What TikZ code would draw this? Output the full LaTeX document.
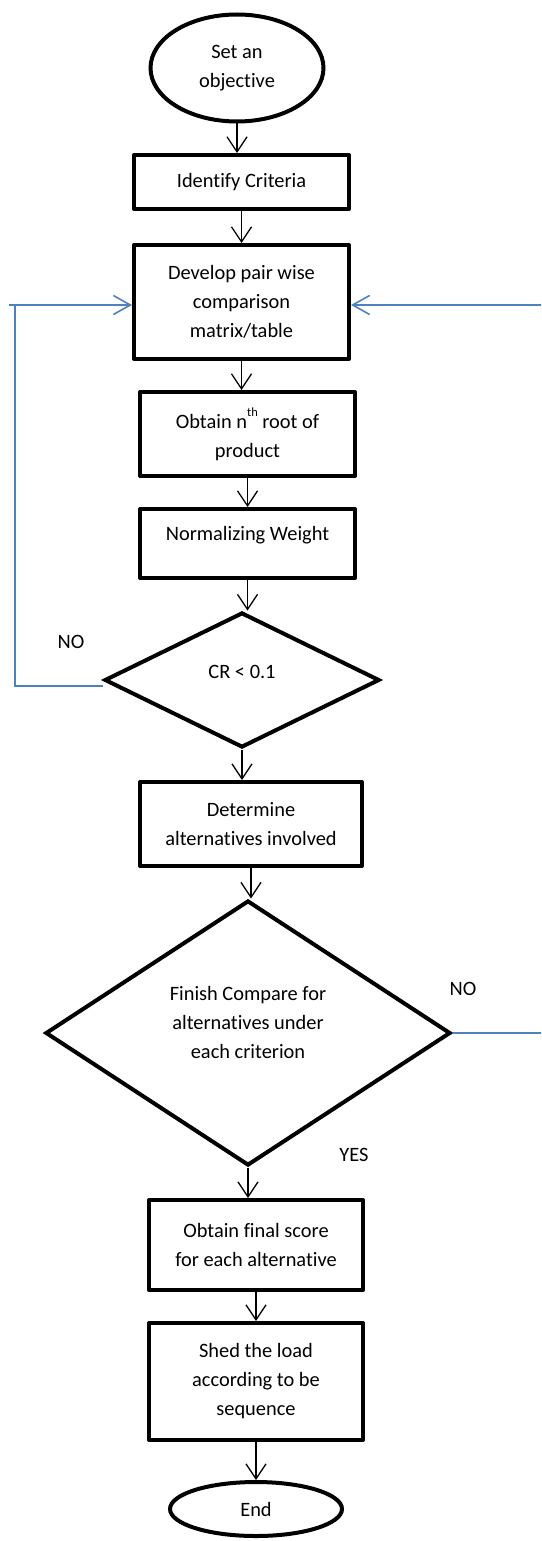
\documentclass[tikz,border=0pt]{standalone}
\usepackage{fontspec}
\setmainfont{Carlito}[Ligatures=CommonOff]
\usetikzlibrary{shapes.geometric,arrows.meta}
\definecolor{loopblue}{RGB}{79,129,189}

\begin{document}
\begin{tikzpicture}[x=1pt, y=-1pt,
    every node/.style={font=\fontsize{20.4}{29}\selectfont, align=center},
    proc/.style={draw, line width=4pt, line join=round, minimum width=215pt},
    term/.style={draw, ellipse, line width=4pt, inner sep=0pt},
    test/.style={draw, diamond, line width=4pt, inner sep=2pt},
    flow/.style={-{Straight Barb[length=15pt, width=20pt]}, line width=1.3pt},
    back/.style={draw=loopblue, line width=1.6pt},
    backtip/.style={-{Straight Barb[length=17pt, width=19pt]}}]

\useasboundingbox (0,0) rectangle (541,1541);
\fill[white] (0,0) rectangle (541,1541);
\clip (0,0) rectangle (541,1541);

\node [term, minimum width=173pt, minimum height=107pt] (start) at (237,68)    {Set an\\objective};
\node [proc, minimum height=54pt]                       (ident) at (241.5,182) {Identify Criteria};
\node [proc, minimum height=114pt]                      (dev)   at (241.5,302) {Develop pair wise\\comparison\\matrix/table};
\node [proc, minimum height=84pt]                       (root)  at (247.5,434) {Obtain n\raisebox{0.6em}{\fontsize{12.5}{12.5}\selectfont th} root of\\product};
\node [proc, minimum height=69pt, text depth=21pt]      (norm)  at (247.5,543.5) {Normalizing Weight};
\node [test, minimum width=275pt, minimum height=135pt, aspect=2, text depth=16pt] (cr) at (242,680) {CR < 0.1};
\node [proc, minimum width=222pt, minimum height=84pt]  (alt)   at (251,824)   {Determine\\alternatives involved};
\node [test, minimum width=405pt, minimum height=265pt, aspect=1.5, text depth=21pt] (fin) at (248,1033) {Finish Compare for\\alternatives under\\each criterion};
\node [proc, minimum width=214pt, minimum height=90pt]  (score) at (256,1245)  {Obtain final score\\for each alternative};
\node [proc, minimum width=214pt, minimum height=117pt] (shed)  at (256,1381.5) {Shed the load\\according to be\\sequence};
\node [term, minimum width=172pt, minimum height=54pt]  (stop)  at (256,1509)  {End};

\node (noleft)  at (71,642)   {NO};
\node (noright) at (463,989)  {NO};
\node (yes)     at (354,1155) {YES};

\foreach \a/\b in {start/ident, ident/dev, dev/root, root/norm, norm/cr,
                   cr/alt, alt/fin, fin/score, score/shed, shed/stop}
    \draw [flow] (\a.south) -- (\a.south |- \b.north);

% loops back to the comparison matrix
\coordinate (noL) at (15,305);
\coordinate (noR) at (560,305);
\draw [back, backtip] ([yshift=-6pt]cr.west) -| (noL) -- (noL -| dev.west);
\draw [back] (noL) -- ++(-6,0);
\draw [back, backtip] (fin.east) -| (noR) -- (noR -| dev.east);

\end{tikzpicture}
\end{document}
